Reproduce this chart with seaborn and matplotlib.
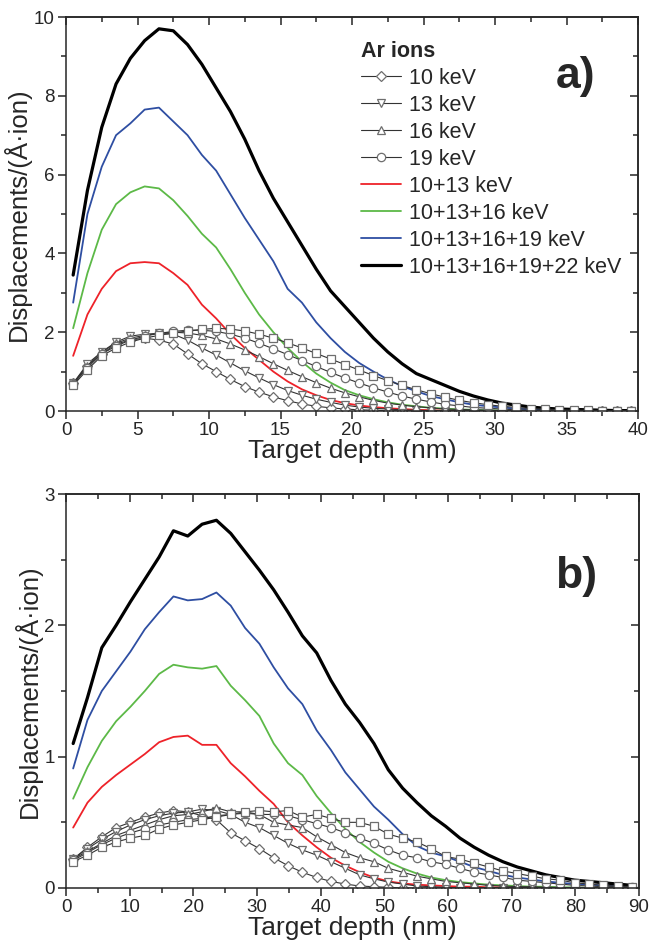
import numpy as np
import matplotlib
matplotlib.use("Agg")
import matplotlib.pyplot as plt
import seaborn as sns
from matplotlib.ticker import MultipleLocator, NullFormatter

# depth bin centres (nm)
depth_a = np.arange(40) * 1.0 + 0.5
depth_b = np.arange(40) * 2.25 + 1.125

# ---- panel a: single-energy implants ----
d10_a = [0.7, 1.15, 1.45, 1.7, 1.8, 1.85, 1.8, 1.7, 1.45, 1.2, 1.0, 0.8, 0.62, 0.48, 0.36, 0.26, 0.18, 0.12, 0.08, 0.05,
         0.03, 0.02, 0.01, 0.005, 0, 0, 0, 0, 0, 0, 0, 0, 0, 0, 0, 0, 0, 0, 0, 0]
d13_a = [0.7, 1.2, 1.5, 1.75, 1.9, 1.95, 1.97, 1.95, 1.8, 1.6, 1.42, 1.22, 1.02, 0.84, 0.67, 0.52, 0.4, 0.3, 0.22, 0.15,
         0.1, 0.07, 0.05, 0.03, 0.02, 0.01, 0.005, 0, 0, 0, 0, 0, 0, 0, 0, 0, 0, 0, 0, 0]
d16_a = [0.7, 1.15, 1.5, 1.72, 1.85, 1.92, 1.97, 2.0, 1.98, 1.92, 1.83, 1.7, 1.55, 1.38, 1.2, 1.03, 0.87, 0.72, 0.58, 0.46,
         0.36, 0.27, 0.2, 0.15, 0.11, 0.08, 0.05, 0.04, 0.03, 0.02, 0.01, 0.01, 0, 0, 0, 0, 0, 0, 0, 0]
d19_a = [0.68, 1.1, 1.45, 1.65, 1.8, 1.9, 1.97, 2.02, 2.05, 2.05, 2.02, 1.95, 1.85, 1.72, 1.58, 1.43, 1.28, 1.13, 0.98, 0.84,
         0.71, 0.59, 0.48, 0.38, 0.3, 0.23, 0.17, 0.13, 0.09, 0.07, 0.05, 0.03, 0.02, 0.02, 0.01, 0.01, 0, 0, 0, 0]
d22_a = [0.65, 1.05, 1.4, 1.6, 1.75, 1.85, 1.92, 1.98, 2.03, 2.07, 2.1, 2.08, 2.03, 1.95, 1.85, 1.73, 1.6, 1.46, 1.32, 1.18,
         1.04, 0.9, 0.77, 0.65, 0.54, 0.44, 0.35, 0.27, 0.21, 0.16, 0.12, 0.09, 0.06, 0.05, 0.03, 0.02, 0.02, 0.01, 0.01, 0.01]

# ---- panel a: multi-energy sums ----
s2_a = [1.4, 2.45, 3.1, 3.55, 3.75, 3.78, 3.75, 3.5, 3.2, 2.7, 2.35, 1.95, 1.6, 1.3, 1.0, 0.75, 0.55, 0.4, 0.28, 0.2,
        0.14, 0.1, 0.07, 0.05, 0.03, 0.02, 0.01, 0.01, 0.005, 0, 0, 0, 0, 0, 0, 0, 0, 0, 0, 0]
s3_a = [2.1, 3.5, 4.6, 5.25, 5.55, 5.7, 5.65, 5.35, 4.95, 4.5, 4.15, 3.6, 3.0, 2.45, 2.0, 1.6, 1.25, 0.95, 0.72, 0.53,
        0.4, 0.3, 0.22, 0.16, 0.12, 0.08, 0.06, 0.04, 0.03, 0.02, 0.015, 0.01, 0.01, 0.005, 0.005, 0, 0, 0, 0, 0]
s4_a = [2.75, 5.0, 6.2, 7.0, 7.3, 7.65, 7.7, 7.35, 7.0, 6.5, 6.1, 5.5, 4.9, 4.35, 3.8, 3.1, 2.75, 2.25, 1.85, 1.5,
        1.22, 1.0, 0.8, 0.63, 0.5, 0.38, 0.3, 0.22, 0.16, 0.12, 0.09, 0.06, 0.04, 0.03, 0.02, 0.015, 0.01, 0.01, 0.005, 0.005]
s5_a = [3.45, 5.6, 7.2, 8.3, 8.95, 9.4, 9.7, 9.65, 9.3, 8.8, 8.2, 7.6, 6.9, 6.1, 5.4, 4.8, 4.2, 3.6, 3.05, 2.65,
        2.25, 1.85, 1.5, 1.2, 0.95, 0.8, 0.65, 0.5, 0.38, 0.28, 0.2, 0.15, 0.1, 0.07, 0.05, 0.04, 0.03, 0.02, 0.01, 0.01]

# ---- panel b: single-energy implants ----
d10_b = [0.22, 0.31, 0.39, 0.46, 0.5, 0.54, 0.57, 0.59, 0.58, 0.55, 0.52, 0.42, 0.36, 0.3, 0.23, 0.17, 0.12, 0.08, 0.05, 0.03,
         0.015, 0.01, 0.005, 0, 0, 0, 0, 0, 0, 0, 0, 0, 0, 0, 0, 0, 0, 0, 0, 0]
d13_b = [0.22, 0.3, 0.37, 0.43, 0.48, 0.52, 0.55, 0.57, 0.58, 0.6, 0.59, 0.56, 0.5, 0.46, 0.4, 0.34, 0.29, 0.25, 0.2, 0.15,
         0.1, 0.07, 0.045, 0.03, 0.015, 0.01, 0.005, 0, 0, 0, 0, 0, 0, 0, 0, 0, 0, 0, 0, 0]
d16_b = [0.22, 0.28, 0.34, 0.4, 0.44, 0.48, 0.52, 0.55, 0.56, 0.58, 0.61, 0.58, 0.58, 0.56, 0.5, 0.48, 0.46, 0.39, 0.33, 0.27,
         0.23, 0.2, 0.15, 0.12, 0.09, 0.07, 0.05, 0.04, 0.03, 0.02, 0.015, 0.01, 0.01, 0.005, 0.005, 0, 0, 0, 0, 0]
d19_b = [0.21, 0.27, 0.33, 0.38, 0.42, 0.45, 0.48, 0.5, 0.52, 0.53, 0.55, 0.56, 0.57, 0.56, 0.56, 0.55, 0.52, 0.49, 0.46, 0.42,
         0.38, 0.34, 0.29, 0.25, 0.23, 0.2, 0.18, 0.15, 0.12, 0.1, 0.08, 0.06, 0.05, 0.04, 0.03, 0.02, 0.015, 0.01, 0.01, 0.005]
d22_b = [0.2, 0.25, 0.31, 0.35, 0.38, 0.4, 0.45, 0.48, 0.5, 0.52, 0.54, 0.56, 0.58, 0.59, 0.58, 0.59, 0.54, 0.56, 0.53, 0.5,
         0.5, 0.47, 0.41, 0.38, 0.35, 0.3, 0.24, 0.22, 0.19, 0.16, 0.13, 0.11, 0.09, 0.07, 0.06, 0.04, 0.03, 0.02, 0.015, 0.01]

# ---- panel b: multi-energy sums ----
s2_b = [0.46, 0.65, 0.77, 0.86, 0.94, 1.02, 1.11, 1.15, 1.16, 1.09, 1.09, 0.95, 0.85, 0.74, 0.64, 0.5, 0.4, 0.31, 0.23, 0.17,
        0.12, 0.08, 0.05, 0.035, 0.025, 0.02, 0.015, 0.01, 0.01, 0.005, 0.005, 0, 0, 0, 0, 0, 0, 0, 0, 0]
s3_b = [0.68, 0.92, 1.12, 1.27, 1.38, 1.5, 1.63, 1.7, 1.68, 1.67, 1.69, 1.54, 1.43, 1.31, 1.1, 0.95, 0.86, 0.7, 0.57, 0.45,
        0.35, 0.27, 0.2, 0.15, 0.11, 0.08, 0.06, 0.045, 0.035, 0.025, 0.02, 0.015, 0.01, 0.01, 0.005, 0.005, 0, 0, 0, 0]
s4_b = [0.91, 1.28, 1.5, 1.65, 1.8, 1.97, 2.1, 2.22, 2.19, 2.2, 2.25, 2.15, 1.98, 1.86, 1.68, 1.52, 1.4, 1.2, 1.05, 0.88,
        0.75, 0.62, 0.52, 0.41, 0.32, 0.27, 0.24, 0.2, 0.16, 0.13, 0.1, 0.08, 0.065, 0.05, 0.04, 0.03, 0.025, 0.02, 0.015, 0.01]
s5_b = [1.1, 1.45, 1.83, 2.0, 2.18, 2.35, 2.52, 2.72, 2.68, 2.77, 2.8, 2.7, 2.56, 2.42, 2.27, 2.1, 1.92, 1.79, 1.58, 1.4,
        1.26, 1.1, 0.9, 0.76, 0.65, 0.55, 0.47, 0.38, 0.31, 0.25, 0.2, 0.16, 0.13, 0.1, 0.08, 0.06, 0.05, 0.04, 0.03, 0.02]

single_labels = ["10 keV", "13 keV", "16 keV", "19 keV", "22 keV"]
single_markers = ["D", "v", "^", "o", "s"]
sum_labels = ["10+13 keV", "10+13+16 keV", "10+13+16+19 keV", "10+13+16+19+22 keV"]
sum_colors = ["#ee2229", "#5cb947", "#2e4ea2", "#000000"]
sum_widths = [1.3, 1.3, 1.3, 2.3]

sns.set_style("ticks")
plt.rcParams["font.family"] = ["Liberation Sans", "DejaVu Sans"]
plt.rcParams["axes.linewidth"] = 1.1

W, H = 650, 948
fig = plt.figure(figsize=(W / 100, H / 100), dpi=100)


def px_axes(left, top, right, bottom):
    return fig.add_axes([left / W, 1 - bottom / H, (right - left) / W, (bottom - top) / H])


def draw_panel(ax, depth, singles, sums):
    for y, lab, col, lw in zip(sums, sum_labels, sum_colors, sum_widths):
        sns.lineplot(x=depth, y=y, ax=ax, color=col, linewidth=lw, label=lab,
                     estimator=None, sort=False, legend=False)
    for y, lab, mk in zip(singles, single_labels, single_markers):
        ms = 5 if mk == "D" else 6
        sns.lineplot(x=depth, y=y, ax=ax, color="#333333", linewidth=0.8, label=lab,
                     marker=mk, markersize=ms, markerfacecolor="white",
                     markeredgecolor="#6e6e6e", markeredgewidth=0.9,
                     estimator=None, sort=False, legend=False)


def style_panel(ax, xmax, xmaj, ymax, ymaj):
    ax.set_xlim(0, xmax)
    ax.set_ylim(0, ymax)
    ax.xaxis.set_major_locator(MultipleLocator(xmaj))
    ax.xaxis.set_minor_locator(MultipleLocator(xmaj / 2))
    ax.yaxis.set_major_locator(MultipleLocator(ymaj))
    ax.yaxis.set_minor_locator(MultipleLocator(ymaj / 2))
    ax.tick_params(which="both", direction="out", top=False, right=False,
                   labelsize=13.5, width=1.1, pad=2)
    ax.tick_params(which="major", length=6)
    ax.tick_params(which="minor", length=3.5)
    top = ax.secondary_xaxis("top")
    top.xaxis.set_major_locator(MultipleLocator(xmaj))
    top.xaxis.set_minor_locator(MultipleLocator(xmaj / 2))
    top.xaxis.set_major_formatter(NullFormatter())
    top.tick_params(which="both", direction="in", width=1.1)
    top.tick_params(which="major", length=6)
    top.tick_params(which="minor", length=3.5)
    right = ax.secondary_yaxis("right")
    right.yaxis.set_major_locator(MultipleLocator(ymaj))
    right.yaxis.set_minor_locator(MultipleLocator(ymaj / 2))
    right.yaxis.set_major_formatter(NullFormatter())
    right.tick_params(which="both", direction="in", width=1.1)
    right.tick_params(which="major", length=6)
    right.tick_params(which="minor", length=3.5)
    ax.set_xlabel("Target depth (nm)", fontsize=19, labelpad=0)
    ax.set_ylabel("Displacements/(Å·ion)", fontsize=18.5, labelpad=2)


ax_a = px_axes(66, 17, 638, 411)
draw_panel(ax_a, depth_a, [d10_a, d13_a, d16_a, d19_a, d22_a], [s2_a, s3_a, s4_a, s5_a])
style_panel(ax_a, 40, 5, 10, 2)
ax_a.text(0.89, 0.85, "a)", transform=ax_a.transAxes, fontsize=32, fontweight="bold",
          ha="center", va="center")

handles = {ln.get_label(): ln for ln in ax_a.get_lines()}
order = single_labels[:4] + sum_labels
leg = ax_a.legend([handles[k] for k in order], order, loc="upper left",
                  bbox_to_anchor=(0.515, 0.94), frameon=False, fontsize=15.5,
                  title="Ar ions", title_fontproperties={"weight": "bold", "size": 15.5},
                  alignment="left", labelspacing=0.28, handlelength=1.9,
                  handletextpad=0.35, borderpad=0, borderaxespad=0)

ax_b = px_axes(66, 494, 639, 888)
draw_panel(ax_b, depth_b, [d10_b, d13_b, d16_b, d19_b, d22_b], [s2_b, s3_b, s4_b, s5_b])
style_panel(ax_b, 90, 10, 3, 1)
ax_b.text(0.89, 0.79, "b)", transform=ax_b.transAxes, fontsize=32, fontweight="bold",
          ha="center", va="center")

fig.savefig("out.png", dpi=100)
